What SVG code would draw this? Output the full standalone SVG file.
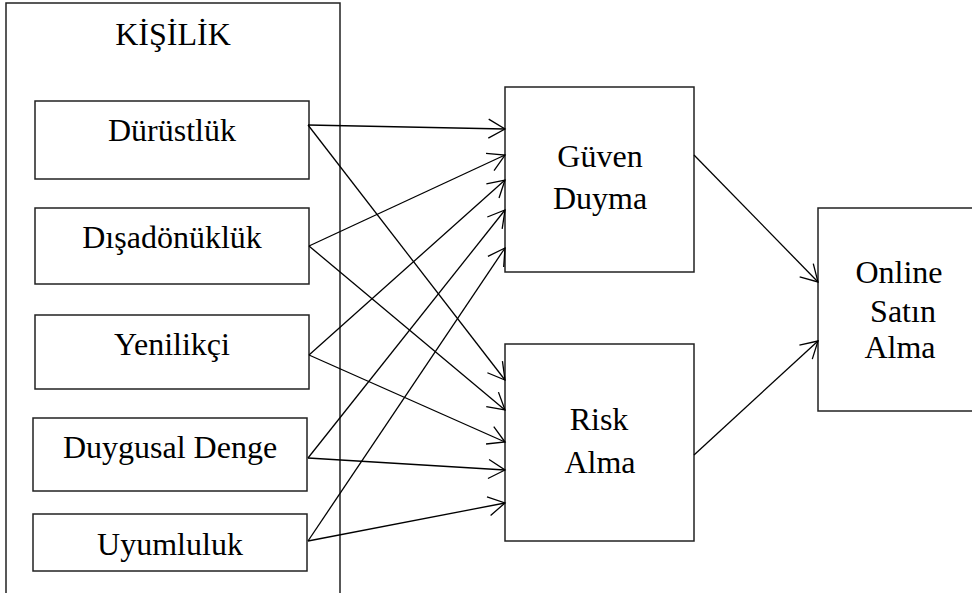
<svg xmlns="http://www.w3.org/2000/svg" width="972" height="593" viewBox="0 0 972 593">
  <style>
    .box { fill: #fff; stroke: #222; stroke-width: 1.5; }
    .frame { fill: none; stroke: #222; stroke-width: 1.5; }
    .lbl { font-family: "Liberation Serif", "Times New Roman", serif; font-size: 32px; fill: #000; text-anchor: middle; }
    .edge { fill: none; stroke: #000; stroke-width: 1.3; marker-end: url(#open); }
  </style>
  <defs>
    <marker id="open" markerUnits="userSpaceOnUse" markerWidth="22" markerHeight="24" viewBox="0 0 22 24" refX="19" refY="12" orient="auto" overflow="visible">
      <path d="M2.5,2.5 L19,12 L2.5,21.5" fill="none" stroke="#000" stroke-width="1.3"/>
    </marker>
  </defs>
  <rect width="972" height="593" fill="#fff"/>

  <!-- personality group frame (open at the bottom) -->
  <g id="kisilik">
    <path class="frame" d="M6,600 V3 H340 V600"/>
    <text class="lbl" x="173" y="45">KİŞİLİK</text>
  </g>

  <g id="durustluk">
    <rect class="box" x="35" y="101" width="274" height="78"/>
    <text class="lbl" x="172" y="141">Dürüstlük</text>
  </g>
  <g id="disadonukluk">
    <rect class="box" x="35" y="208" width="274" height="76"/>
    <text class="lbl" x="172" y="248">Dışadönüklük</text>
  </g>
  <g id="yenilikci">
    <rect class="box" x="35" y="315" width="274" height="74"/>
    <text class="lbl" x="172" y="355">Yenilikçi</text>
  </g>
  <g id="duygusal-denge">
    <rect class="box" x="33" y="418" width="274" height="73"/>
    <text class="lbl" x="170" y="458">Duygusal Denge</text>
  </g>
  <g id="uyumluluk">
    <rect class="box" x="33" y="514" width="274" height="57"/>
    <text class="lbl" x="170" y="555">Uyumluluk</text>
  </g>

  <g id="guven-duyma">
    <rect class="box" x="505" y="87" width="189" height="185"/>
    <text class="lbl" x="600" y="167">Güven</text>
    <text class="lbl" x="600" y="209">Duyma</text>
  </g>
  <g id="risk-alma">
    <rect class="box" x="505" y="344" width="189" height="197"/>
    <text class="lbl" x="599" y="430">Risk</text>
    <text class="lbl" x="600" y="473">Alma</text>
  </g>
  <g id="online-satin-alma">
    <rect class="box" x="818" y="208" width="160" height="203"/>
    <text class="lbl" x="899" y="283">Online</text>
    <text class="lbl" x="903" y="322">Satın</text>
    <text class="lbl" x="900" y="358">Alma</text>
  </g>

  <g id="connectors">
    <!-- traits to Güven Duyma -->
    <line class="edge" x1="308" y1="125" x2="505" y2="129"/>
    <line class="edge" x1="309" y1="246" x2="505" y2="155"/>
    <line class="edge" x1="309" y1="355" x2="505" y2="180"/>
    <line class="edge" x1="308" y1="458" x2="505" y2="210"/>
    <line class="edge" x1="308" y1="541" x2="505" y2="248"/>
    <!-- traits to Risk Alma -->
    <line class="edge" x1="308" y1="125" x2="505" y2="380"/>
    <line class="edge" x1="309" y1="246" x2="505" y2="410"/>
    <line class="edge" x1="309" y1="355" x2="505" y2="442"/>
    <line class="edge" x1="308" y1="458" x2="505" y2="470"/>
    <line class="edge" x1="308" y1="541" x2="505" y2="503"/>
    <!-- mediators to Online Satın Alma -->
    <line class="edge" x1="694" y1="155" x2="818" y2="282"/>
    <line class="edge" x1="694" y1="455" x2="818" y2="341"/>
  </g>
</svg>
